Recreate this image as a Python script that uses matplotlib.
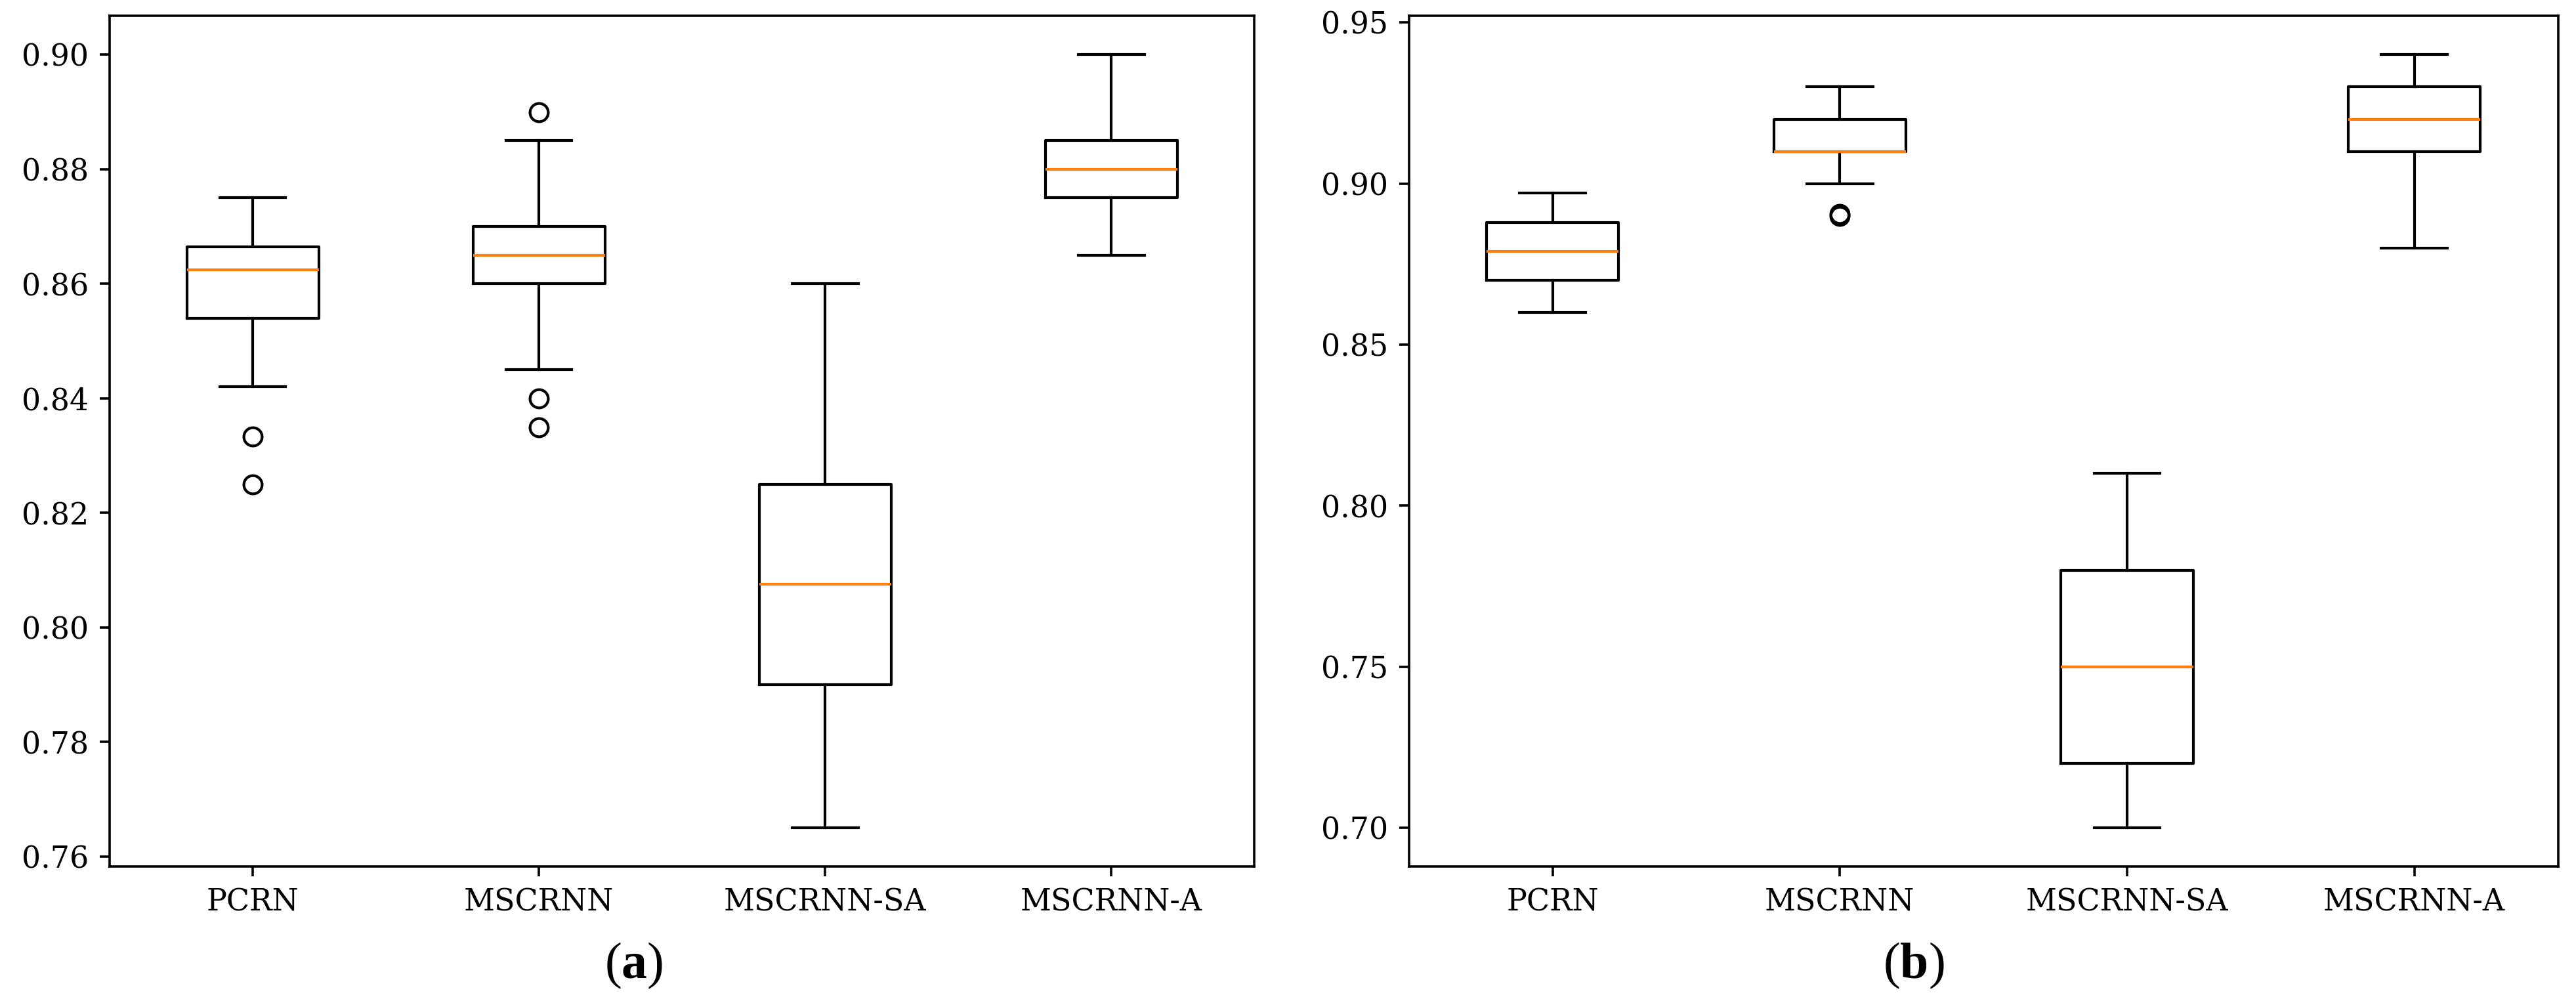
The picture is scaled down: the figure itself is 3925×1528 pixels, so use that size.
import matplotlib
matplotlib.use("Agg")
import matplotlib.pyplot as plt

categories = ["PCRN", "MSCRNN", "MSCRNN-SA", "MSCRNN-A"]

# Panel (a)
a_whislo = [0.842, 0.845, 0.765, 0.865]
a_q1     = [0.854, 0.860, 0.790, 0.875]
a_med    = [0.8625, 0.865, 0.8075, 0.880]
a_q3     = [0.8665, 0.870, 0.825, 0.885]
a_whishi = [0.875, 0.885, 0.860, 0.900]
a_fliers = [[0.8333, 0.825], [0.890, 0.840, 0.835], [], []]
a_yticks = [0.76, 0.78, 0.80, 0.82, 0.84, 0.86, 0.88, 0.90]

# Panel (b)
b_whislo = [0.860, 0.900, 0.700, 0.880]
b_q1     = [0.870, 0.910, 0.720, 0.910]
b_med    = [0.879, 0.910, 0.750, 0.920]
b_q3     = [0.888, 0.920, 0.780, 0.930]
b_whishi = [0.897, 0.930, 0.810, 0.940]
b_fliers = [[], [0.890, 0.8905], [], []]
b_yticks = [0.70, 0.75, 0.80, 0.85, 0.90, 0.95]

plt.rcParams['font.family'] = ['DejaVu Serif']
plt.rcParams['mathtext.fontset'] = 'custom'
plt.rcParams['mathtext.rm'] = 'Liberation Serif'
plt.rcParams['mathtext.bf'] = 'Liberation Serif:bold'

fig = plt.figure(figsize=(39.25, 15.28), dpi=100)
ax_a = fig.add_axes([0.0426, 0.136, 0.4444, 0.848])
ax_b = fig.add_axes([0.547, 0.136, 0.446, 0.848])

LW = 3.0

def draw(ax, lo, q1, med, q3, hi, fl, yticks, fmt):
    stats = []
    for i, c in enumerate(categories):
        stats.append(dict(label=c, whislo=lo[i], q1=q1[i], med=med[i],
                          q3=q3[i], whishi=hi[i], fliers=fl[i]))
    ax.bxp(stats, widths=0.46,
           boxprops=dict(color='black', linewidth=LW),
           whiskerprops=dict(color='black', linewidth=LW),
           capprops=dict(color='black', linewidth=LW),
           medianprops=dict(color='#ff7f0e', linewidth=LW),
           flierprops=dict(marker='o', markerfacecolor='none',
                           markeredgecolor='black', markersize=20,
                           markeredgewidth=LW))
    ax.set_yticks(yticks)
    ax.set_yticklabels([fmt.format(v) for v in yticks])
    ax.tick_params(axis='both', labelsize=33, length=11, width=2.6, pad=12)
    for s in ax.spines.values():
        s.set_linewidth(2.6)

draw(ax_a, a_whislo, a_q1, a_med, a_q3, a_whishi, a_fliers, a_yticks, "{:.2f}")
draw(ax_b, b_whislo, b_q1, b_med, b_q3, b_whishi, b_fliers, b_yticks, "{:.2f}")

fig.text(0.246, 0.037, r"$\mathrm{(}\mathbf{a}\mathrm{)}$", fontsize=56,
         ha='center', va='center')
fig.text(0.743, 0.037, r"$\mathrm{(}\mathbf{b}\mathrm{)}$", fontsize=56,
         ha='center', va='center')

fig.savefig("out.png", dpi=100, facecolor='white')
